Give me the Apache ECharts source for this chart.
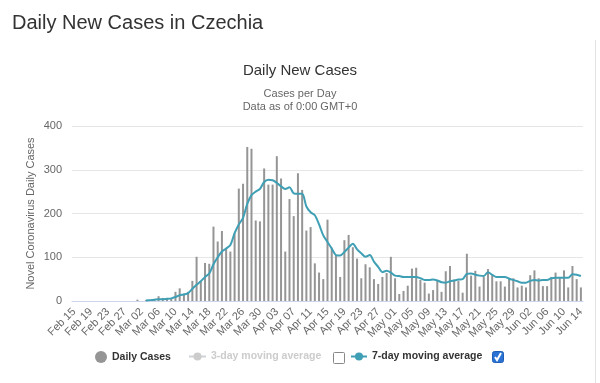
<!DOCTYPE html>
<html><head><meta charset="utf-8">
<script src="https://cdn.jsdelivr.net/npm/echarts@6/dist/echarts.min.js"></script>
<style>html,body{margin:0;padding:0;background:#fff}#c{width:600px;height:383px}</style>
</head><body><div id="c"></div>
<script>
const categories = [
'Feb 15','Feb 16','Feb 17','Feb 18','Feb 19','Feb 20','Feb 21','Feb 22','Feb 23','Feb 24','Feb 25','Feb 26','Feb 27','Feb 28','Feb 29',
'Mar 01','Mar 02','Mar 03','Mar 04','Mar 05','Mar 06','Mar 07','Mar 08','Mar 09','Mar 10','Mar 11','Mar 12','Mar 13','Mar 14','Mar 15','Mar 16','Mar 17','Mar 18','Mar 19','Mar 20','Mar 21','Mar 22','Mar 23','Mar 24','Mar 25','Mar 26','Mar 27','Mar 28','Mar 29','Mar 30','Mar 31',
'Apr 01','Apr 02','Apr 03','Apr 04','Apr 05','Apr 06','Apr 07','Apr 08','Apr 09','Apr 10','Apr 11','Apr 12','Apr 13','Apr 14','Apr 15','Apr 16','Apr 17','Apr 18','Apr 19','Apr 20','Apr 21','Apr 22','Apr 23','Apr 24','Apr 25','Apr 26','Apr 27','Apr 28','Apr 29','Apr 30',
'May 01','May 02','May 03','May 04','May 05','May 06','May 07','May 08','May 09','May 10','May 11','May 12','May 13','May 14','May 15','May 16','May 17','May 18','May 19','May 20','May 21','May 22','May 23','May 24','May 25','May 26','May 27','May 28','May 29','May 30','May 31',
'Jun 01','Jun 02','Jun 03','Jun 04','Jun 05','Jun 06','Jun 07','Jun 08','Jun 09','Jun 10','Jun 11','Jun 12','Jun 13','Jun 14'];

const dailyCases = [
0,0,0,0,0,0,0,0,0,0,0,0,0,0,0,
3,0,2,0,3,11,7,6,6,21,29,17,21,46,101,45,87,85,170,136,160,120,113,155,257,268,352,348,184,182,303,
266,266,331,280,113,233,194,292,254,161,169,86,65,50,186,122,105,55,139,151,123,97,52,84,77,50,39,55,64,101,
52,16,23,35,74,76,48,42,17,25,48,21,68,80,49,46,19,108,58,69,33,55,73,61,45,45,33,53,52,31,35,
31,59,70,52,34,34,55,65,55,70,31,80,50,31];

const movingAvg7 = [
null,null,null,null,null,null,null,null,null,null,null,null,null,null,null,
null,null,1,2,3,4,4,5,6,9,13,15,18,28,37,45,55,63,84,100,113,120,128,155,175,190,222,242,250,256,272,
277,276,270,262,256,260,246,245,245,216,203,196,175,150,135,120,105,104,112,122,131,118,109,101,105,90,78,66,69,65,
58,57,55,55,55,55,52,48,48,49,47,43,42,45,47,49,50,62,63,60,58,57,66,60,55,55,55,51,48,45,42,
42,46,48,47,48,48,52,53,53,53,53,61,60,57];

const movingAvg3 = [];
const yTicks = [0, 100, 200, 300, 400];

const FONT = 'Liberation Sans, Arial, sans-serif';
const legendText = {fontFamily: FONT, fontSize: 10.5, fontWeight: 'bold', color: '#333'};
const chart = echarts.init(document.getElementById('c'), null, {renderer: 'canvas'});
chart.setOption({
  animation: false,
  backgroundColor: '#fff',
  textStyle: {fontFamily: FONT},
  title: [
    {text: 'Daily New Cases in Czechia', left: 7, top: 8,
     textStyle: {fontFamily: FONT, fontSize: 20, fontWeight: 'normal', color: '#333'}},
    {text: 'Daily New Cases', left: 'center', top: 58,
     textStyle: {fontFamily: FONT, fontSize: 15, fontWeight: 'normal', color: '#333'}},
    {text: 'Cases per Day', left: 'center', top: 83,
     textStyle: {fontFamily: FONT, fontSize: 11, fontWeight: 'normal', color: '#666'}},
    {text: 'Data as of 0:00 GMT+0', left: 'center', top: 96,
     textStyle: {fontFamily: FONT, fontSize: 11, fontWeight: 'normal', color: '#666'}}
  ],
  grid: {left: 72, right: 17, top: 126, bottom: 82, containLabel: false},
  legend: [
    {data: [{name: 'Daily Cases', icon: 'circle'}], left: 95, top: 351, padding: 0,
     itemWidth: 12, itemHeight: 12, textStyle: legendText},
    {data: ['3-day moving average'], left: 188, top: 351, padding: 0, itemWidth: 17, itemHeight: 10,
     selected: {'3-day moving average': false}, inactiveColor: '#ccc', textStyle: legendText},
    {data: ['7-day moving average'], left: 350, top: 351, padding: 0, itemWidth: 16, itemHeight: 10,
     textStyle: legendText}
  ],
  xAxis: {
    type: 'category', data: categories, boundaryGap: true,
    axisLine: {lineStyle: {color: '#ccd6eb'}},
    axisTick: {show: false},
    axisLabel: {interval: 3, rotate: 45, fontSize: 11, color: '#666', fontFamily: FONT, margin: 9}
  },
  yAxis: {
    type: 'value', min: yTicks[0], max: yTicks[yTicks.length - 1], interval: 100,
    name: 'Novel Coronavirus Daily Cases', nameLocation: 'middle', nameGap: 36, nameRotate: 90,
    nameMoveOverlap: false,
    nameTextStyle: {fontFamily: FONT, fontSize: 11, color: '#666'},
    axisLine: {show: false}, axisTick: {show: false},
    axisLabel: {fontSize: 11, color: '#666', fontFamily: FONT, margin: 10},
    splitLine: {lineStyle: {color: '#e6e6e6'}}
  },
  series: [
    {name: 'Daily Cases', type: 'bar', data: dailyCases, barWidth: 2,
     itemStyle: {color: '#959595'}},
    {name: '3-day moving average', type: 'line', data: movingAvg3,
     symbol: 'circle', symbolSize: 6, showSymbol: false, itemStyle: {color: '#999'}, lineStyle: {width: 2}},
    {name: '7-day moving average', type: 'line', data: movingAvg7, smooth: 0.3,
     symbol: 'circle', symbolSize: 6, showSymbol: false, connectNulls: false,
     itemStyle: {color: '#3f9fb4'}, lineStyle: {width: 2, color: '#3f9fb4'}}
  ],
  graphic: [
    {type: 'rect', left: 333, top: 352, shape: {width: 11, height: 11, r: 1},
     style: {fill: '#fff', stroke: '#888', lineWidth: 1}},
    {type: 'rect', left: 492, top: 351, shape: {width: 11, height: 11, r: 2},
     style: {fill: '#2a72d4', stroke: '#1d5fb8', lineWidth: 1}},
    {type: 'polyline', shape: {points: [[495, 357], [497, 360], [501, 353]]},
     style: {stroke: '#fff', lineWidth: 2, fill: null}},
    {type: 'line', shape: {x1: 595.5, y1: 40, x2: 595.5, y2: 383},
     style: {stroke: '#e3e3e3', lineWidth: 1}}
  ]
});
</script>
</body></html>
